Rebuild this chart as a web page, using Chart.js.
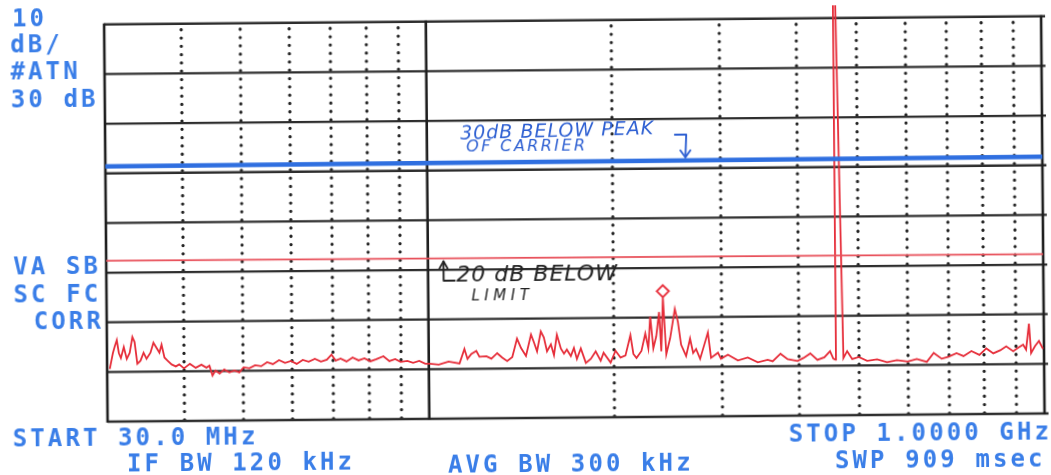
<!DOCTYPE html>
<html><head><meta charset="utf-8">
<script src="https://cdn.jsdelivr.net/npm/chart.js@4"></script>
<style>
html,body{margin:0;padding:0;background:#fff;overflow:hidden;width:1051px;height:475px}
#wrap{position:absolute;left:0;top:0;width:1051px;height:475px;transform:rotate(-0.5deg);transform-origin:525.5px 237.5px}
#c{position:absolute;left:0;top:0}
.lcd{position:absolute;font-family:"DejaVu Sans Mono",monospace;font-weight:bold;font-size:24px;line-height:24px;letter-spacing:3.1px;color:#3a7ee8;white-space:pre}
.hand{position:absolute;font-family:"DejaVu Sans",sans-serif;font-style:italic;white-space:pre;line-height:1}
.blue{color:#2d5fd2}
.ink{color:#222}
</style></head><body>
<div id="wrap">
<canvas id="c" width="1051" height="475"></canvas>
<div class="lcd" style="left:14px;top:2px">10</div>
<div class="lcd" style="left:12px;top:28px">dB/</div>
<div class="lcd" style="left:12px;top:55px">#ATN</div>
<div class="lcd" style="left:12px;top:83px">30 dB</div>
<div class="lcd" style="left:13px;top:250px">VA SB</div>
<div class="lcd" style="left:13px;top:278px">SC FC</div>
<div class="lcd" style="left:33px;top:305px">CORR</div>
<div class="lcd" style="left:11px;top:422px">START 30.0 MHz</div>
<div class="lcd" style="left:125px;top:448px">IF BW 120 kHz</div>
<div class="lcd" style="left:446px;top:452px">AVG BW 300 kHz</div>
<div class="lcd" style="left:787px;top:424px">STOP 1.0000 GHz</div>
<div class="lcd" style="left:833px;top:451px">SWP 909 msec</div>
<div class="hand blue" style="left:461px;top:121px;font-size:19px;letter-spacing:1px;transform:rotate(-1deg)">30dB BELOW PEAK</div>
<div class="hand blue" style="left:467px;top:138px;font-size:16px;letter-spacing:2.4px">OF CARRIER</div>
<div class="hand ink" style="left:456px;top:263px;font-size:22px;letter-spacing:1px">20 dB BELOW</div>
<div class="hand ink" style="left:471px;top:288px;font-size:15px;letter-spacing:4.5px">LIMIT</div>
</div>
<script>
// Span of the sweep (MHz) and reference graticule
const spanFreq = [30, 1000];
const gridLevelsDb = [0, -10, -20, -30, -40, -50, -60, -70, -80];
const gridFreqSolid = [30, 100, 1000];
const gridFreqDotted = [40, 50, 60, 70, 80, 90, 200, 300, 400, 500, 600, 700, 800, 900];

// Measured trace (frequency in MHz, level in dB relative to top graticule)
const freqMHz = [
  30.3, 30.67, 30.9, 31.13, 31.36, 31.6, 31.95, 32.3, 32.66, 33.0, 33.27, 33.6, 34.0, 34.4, 34.78, 35.3, 35.7, 36.1, 36.5, 36.8, 37.2, 37.6, 38.2, 38.8, 39.3, 40.0,
  40.9, 41.8, 42.7, 43.5, 44.0, 44.5, 45.0, 45.7, 46.5, 47.4, 48.3, 49.2, 50.0, 51.1, 52.2, 53.4, 54.6, 55.8, 57.1, 58.4, 59.7, 61.0, 62.4, 63.8, 65.3, 66.8, 68.3, 69.5, 70.6, 71.9, 73.5, 75.2, 76.9, 78.6, 80.4, 82.2, 84.4, 86.3, 88.2, 90.0, 92.3, 94.3, 96.5, 98.7,
  100.4, 103.8, 107.7, 112.2, 114.3, 115.6, 117.3, 119.5, 120.9, 124.1, 126.4, 129.2, 131.7, 134.1, 136.7, 139.2, 141.3, 143.9, 146.7, 148.3, 150.0, 152.2, 153.9, 155.7, 158.0, 159.8, 161.6, 164.0, 165.9, 167.7, 170.2, 172.2, 174.1, 176.7, 180.0, 183.4, 186.8, 190.3, 192.4, 197.5, 201.2, 205.0, 208.8, 212.8, 215.1, 217.6, 221.7, 225.0, 227.5, 229.3, 231.8, 234.4, 237.1, 238.8, 240.6, 243.3, 246.9, 251.5, 254.3, 257.2, 262.0, 266.0, 269.0, 272.0, 276.1, 284.4, 287.6, 295.2, 298.5, 306.4,
  318, 330, 342.5, 355.5, 362.2, 373, 383, 397.5, 406.4, 417, 428.2, 439.5, 449, 454.5, 458, 459, 462, 472, 478.7, 487.8, 500, 515.8, 535.4, 555.6, 576.7, 600, 621.1, 644.8, 661.8, 681.8, 700, 720.8, 739.8, 762.1, 785.2, 805.9, 827.1, 849.0, 868.2, 891.1, 907.9, 924.9, 935.2, 945.9, 952.8, 967.1, 981.5, 996.2
];
const levelDb = [
  -69.4, -66.2, -64.8, -63.6, -66.2, -67.2, -65.0, -67.4, -66.2, -63.0, -64.0, -68.4, -67.8, -66.2, -67.4, -66.2, -64.2, -65.2, -66.2, -64.6, -67.2, -67.8, -68.6, -69.0, -68.6, -69.4,
  -68.5, -69.3, -68.7, -69.3, -68.9, -70.9, -69.9, -70.5, -69.7, -70.3, -69.9, -70.3, -69.3, -69.5, -68.9, -69.1, -68.3, -68.7, -67.9, -68.5, -68.1, -68.7, -67.9, -68.3, -67.7, -68.3, -67.9, -66.9, -68.1, -67.7, -68.3, -67.5, -68.1, -67.7, -68.3, -67.9, -67.3, -68.3, -67.9, -68.5, -68.3, -68.7, -68.3, -68.9,
  -68.9, -69.1, -68.5, -68.9, -66.0, -68.0, -67.0, -66.4, -67.6, -67.5, -68.0, -66.9, -67.8, -68.5, -67.7, -64.0, -65.9, -67.5, -63.2, -64.8, -66.6, -62.6, -63.8, -66.6, -65.2, -67.4, -63.3, -66.1, -67.1, -66.3, -67.6, -66.0, -68.2, -66.1, -69.0, -68.2, -66.7, -68.6, -67.0, -69.0, -66.6, -68.0, -67.6, -63.5, -67.3, -68.1, -66.7, -63.2, -66.2, -59.8, -66.2, -63.8, -58.9, -66.8, -56.0, -67.4, -64.2, -58.3, -60.9, -65.5, -67.8, -64.3, -67.2, -66.4, -68.4, -63.1, -68.2, -67.2, -68.4, -67.6,
  -68.8, -68.2, -69.2, -68.7, -69.0, -67.5, -68.6, -69.0, -68.4, -67.5, -68.8, -68.3, -67.1, -68.6, -68.8, 10, 10, -68.5, -67.1, -68.7, -68.3, -69.1, -68.8, -69.4, -69.0, -69.3, -68.8, -69.4, -67.6, -68.8, -68.4, -67.7, -68.3, -67.3, -68.1, -66.8, -67.8, -67.2, -66.4, -67.4, -66.7, -66.1, -67.1, -61.9, -67.8, -66.4, -65.4, -67.0
];

// Hand-drawn reference lines (level at span start, level at span end)
const limitDb = [-47.6, -47.9];       // 20 dB below limit
const carrierRefDb = [-28.6, -28.3];  // 30 dB below carrier peak

// Marker
const markerFreq = [240.6];
const markerDb = [-54.7];

const graticule = {
  id: 'graticule',
  beforeDatasetsDraw(chart) {
    const {ctx, scales: {x, y}} = chart;
    const yt = y.getPixelForValue(gridLevelsDb[0]);
    const yb = y.getPixelForValue(gridLevelsDb[gridLevelsDb.length - 1]);
    const xl = x.getPixelForValue(spanFreq[0]);
    const xr = x.getPixelForValue(spanFreq[1]);
    ctx.save();
    ctx.strokeStyle = '#242424';
    ctx.lineWidth = 3.3; ctx.lineCap = 'round'; ctx.setLineDash([0, 8.3]);
    for (const f of gridFreqDotted) {
      const px = Math.round(x.getPixelForValue(f));
      ctx.beginPath(); ctx.moveTo(px, yt + 6); ctx.lineTo(px, yb); ctx.stroke();
    }
    ctx.setLineDash([]); ctx.lineCap = 'butt';
    ctx.strokeStyle = '#2e2e2e';
    ctx.lineWidth = 2.3;
    for (const v of gridLevelsDb) {
      const py = y.getPixelForValue(v);
      ctx.beginPath(); ctx.moveTo(xl, py); ctx.lineTo(xr + 4, py); ctx.stroke();
    }
    ctx.strokeStyle = '#1e1e1e';
    ctx.lineWidth = 2.6;
    for (const f of gridFreqSolid) {
      const px = Math.min(x.getPixelForValue(f), chart.width - 2);
      ctx.beginPath(); ctx.moveTo(px, yt - 1); ctx.lineTo(px, yb + 1); ctx.stroke();
    }
    ctx.restore();
  }
};

const arrows = {
  id: 'arrows',
  afterDatasetsDraw(chart) {
    const {ctx, scales: {x, y}} = chart;
    ctx.save();
    ctx.lineWidth = 1.9; ctx.lineCap = 'round'; ctx.lineJoin = 'round';
    // blue arrow pointing down to carrier reference line
    ctx.strokeStyle = '#2d5fd2';
    let xa = x.getPixelForValue(264), x0 = x.getPixelForValue(253);
    let ya = y.getPixelForValue(-23.2), tip = y.getPixelForValue(-28.4) - 3;
    ctx.beginPath(); ctx.moveTo(x0, ya); ctx.lineTo(xa, ya); ctx.lineTo(xa - 1, tip); ctx.stroke();
    ctx.beginPath(); ctx.moveTo(xa - 6, tip - 7); ctx.lineTo(xa - 1, tip); ctx.lineTo(xa + 4, tip - 7); ctx.stroke();
    // black arrow pointing up to limit line
    ctx.strokeStyle = '#222';
    let xb = x.getPixelForValue(106), xf = x.getPixelForValue(110.5);
    let tb = y.getPixelForValue(-47.7) + 3, fb = y.getPixelForValue(-52.2);
    ctx.beginPath(); ctx.moveTo(xb, tb); ctx.lineTo(xb, fb); ctx.lineTo(xf, fb); ctx.stroke();
    ctx.beginPath(); ctx.moveTo(xb - 4, tb + 7); ctx.lineTo(xb, tb); ctx.lineTo(xb + 4, tb + 7); ctx.stroke();
    ctx.restore();
  }
};

new Chart(document.getElementById('c'), {
  type: 'line',
  data: {
    datasets: [
      {
        label: 'Marker',
        data: markerFreq.map((f, i) => ({x: f, y: markerDb[i]})),
        showLine: false, pointStyle: 'rectRot', pointRadius: 6,
        borderColor: '#e8323e', borderWidth: 2, backgroundColor: '#ffffff'
      },
      {
        label: '30 dB below peak of carrier',
        data: [{x: spanFreq[0], y: carrierRefDb[0]}, {x: spanFreq[1], y: carrierRefDb[1]}],
        borderColor: '#2f6fe0', borderWidth: 4.5, pointRadius: 0, clip: 4
      },
      {
        label: '20 dB below limit',
        data: [{x: spanFreq[0], y: limitDb[0]}, {x: spanFreq[1], y: limitDb[1]}],
        borderColor: '#e8505a', borderWidth: 1.8, pointRadius: 0, clip: 4
      },
      {
        label: 'Trace',
        data: freqMHz.map((f, i) => ({x: f, y: levelDb[i]})),
        borderColor: '#e62e3a', borderWidth: 1.8, pointRadius: 0, tension: 0
      }
    ]
  },
  options: {
    responsive: false,
    animation: false,
    devicePixelRatio: 1,
    layout: {padding: {left: 106, right: 0, top: 0, bottom: 57}},
    scales: {
      x: {type: 'logarithmic', min: spanFreq[0], max: spanFreq[1], display: false},
      y: {type: 'linear', min: -80, max: 2.57, display: false}
    },
    plugins: {legend: {display: false}, tooltip: {enabled: false}}
  },
  plugins: [graticule, arrows]
});
</script>
</body></html>
